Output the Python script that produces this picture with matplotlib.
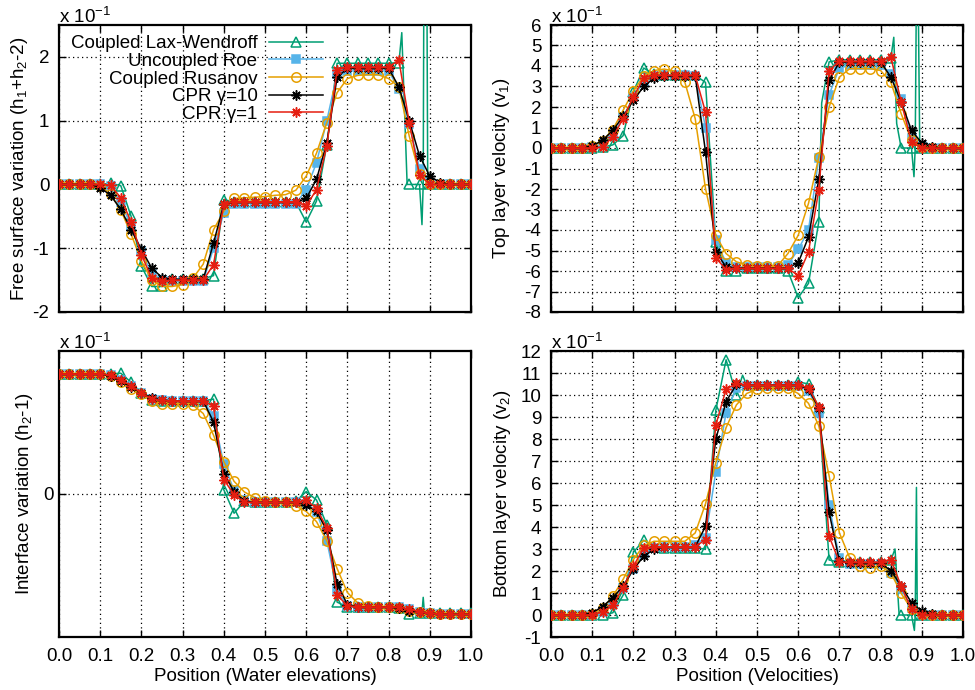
import numpy as np
import matplotlib
matplotlib.use('Agg')
import matplotlib.pyplot as plt
from matplotlib.ticker import MultipleLocator, FormatStrFormatter

plt.rcParams['font.family'] = ['Liberation Sans', 'DejaVu Sans']
plt.rcParams['mathtext.default'] = 'regular'
plt.rcParams['axes.unicode_minus'] = False

# ---------------- data ----------------
positions = np.linspace(0.0, 1.0, 41)
series_names = ['Coupled Lax-Wendroff', 'Uncoupled Roe', 'Coupled Rusanov', 'CPR γ=10', 'CPR γ=1']

# Free surface variation (x 10^-1)
eta_lw = [0, 0, 0, 0, 0, 0.02, -0.02, -0.5, -1.28, -1.6, -1.6, -1.49, -1.48, -1.48, -1.48, -1.43, -0.24, -0.27, -0.27, -0.27, -0.27,
          -0.27, -0.27, -0.28, -0.59, -0.26, 0.62, 1.9, 1.9, 1.9, 1.9, 1.9, 1.9, 1.91, 0, 0, 0, 0, 0, 0, 0]
eta_roe = [0, 0, 0, 0, 0, -0.03, -0.28, -0.65, -1.05, -1.4, -1.5, -1.52, -1.52, -1.52, -1.52, -1.0, -0.45, -0.3, -0.3, -0.3, -0.3,
           -0.3, -0.3, -0.3, -0.08, 0.34, 1.0, 1.73, 1.78, 1.78, 1.78, 1.78, 1.78, 1.49, 0.95, 0.25, 0.02, 0, 0, 0, 0]
eta_rus = [0, 0, 0, 0, -0.02, -0.15, -0.4, -0.78, -1.2, -1.5, -1.6, -1.6, -1.57, -1.47, -1.25, -0.71, -0.42, -0.22, -0.21, -0.2, -0.19,
           -0.17, -0.16, -0.09, 0.13, 0.49, 0.97, 1.44, 1.66, 1.71, 1.72, 1.72, 1.66, 1.53, 0.76, 0.16, 0.0, 0, 0, 0, 0]
eta_cpr10 = [0, 0, 0, 0, -0.05, -0.17, -0.39, -0.71, -1.02, -1.31, -1.46, -1.49, -1.49, -1.49, -1.49, -0.92, -0.31, -0.28, -0.28, -0.28, -0.28,
             -0.28, -0.28, -0.28, -0.22, 0.08, 0.65, 1.68, 1.82, 1.82, 1.82, 1.82, 1.82, 1.53, 1.0, 0.45, 0.13, 0.03, 0, 0, 0]
eta_cpr1 = [0, 0, 0, 0, 0, -0.01, -0.21, -0.59, -1.1, -1.47, -1.52, -1.5, -1.5, -1.5, -1.5, -1.26, -0.31, -0.27, -0.27, -0.27, -0.27,
            -0.27, -0.27, -0.27, -0.34, -0.08, 0.6, 1.8, 1.84, 1.84, 1.84, 1.84, 1.84, 1.95, 0.97, 0.15, 0, 0, 0, 0, 0]
eta_lw_extra_x = [0.832, 0.845, 0.881, 0.884, 0.887, 0.891, 0.895]
eta_lw_extra_y = [2.38, 0.0, -0.63, 0.0, 6.0, 6.0, 0.0]

# Top layer velocity (x 10^-1)
v1_lw = [0, 0, 0, 0, 0, 0.05, 0.15, 0.6, 2.75, 3.9, 3.6, 3.55, 3.55, 3.55, 3.55, 3.2, -4.6, -6.0, -6.0, -5.85, -5.85,
         -5.85, -5.85, -6.0, -7.3, -6.6, -3.6, 4.2, 4.3, 4.3, 4.3, 4.3, 4.3, 4.4, 0, 0, 0, 0, 0, 0, 0]
v1_roe = [0, 0, 0, 0, 0.05, 0.2, 0.6, 1.5, 2.5, 3.2, 3.5, 3.55, 3.55, 3.55, 3.5, 1.0, -4.5, -5.6, -5.8, -5.8, -5.8,
          -5.8, -5.8, -5.7, -4.95, -4.0, -0.5, 2.6, 3.9, 4.05, 4.05, 4.05, 4.05, 3.6, 2.4, 0.5, 0.1, 0, 0, 0, 0]
v1_rus = [0, 0, 0, 0, 0.1, 0.35, 0.9, 1.84, 2.78, 3.5, 3.78, 3.85, 3.75, 3.2, 1.43, -1.98, -4.26, -5.15, -5.55, -5.7, -5.75,
          -5.75, -5.75, -5.15, -4.26, -2.7, -0.44, 2.0, 3.46, 3.87, 3.87, 3.87, 3.78, 3.2, 1.67, 0.37, 0.05, 0, 0, 0, 0]
v1_cpr10 = [0, 0, 0, 0, 0.1, 0.37, 0.86, 1.54, 2.32, 3.0, 3.41, 3.49, 3.52, 3.52, 3.52, -0.19, -5.07, -5.8, -5.85, -5.85, -5.85,
            -5.85, -5.85, -5.85, -5.6, -4.34, -1.53, 3.3, 4.19, 4.2, 4.2, 4.2, 4.2, 3.46, 2.24, 0.86, 0.24, 0.05, 0, 0, 0]
v1_cpr1 = [0, 0, 0, 0, 0, 0.05, 0.54, 1.43, 2.49, 3.43, 3.55, 3.55, 3.55, 3.55, 3.55, 1.75, -5.36, -5.93, -5.87, -5.87, -5.87,
           -5.87, -5.87, -5.87, -6.22, -5.07, -2.03, 3.78, 4.24, 4.22, 4.22, 4.22, 4.22, 4.43, 2.24, 0.29, 0, 0, 0, 0, 0]
v1_lw_extra_x = [0.657, 0.832, 0.839, 0.881, 0.884, 0.887, 0.891, 0.895]
v1_lw_extra_y = [2.2, 5.4, 1.2, -1.4, 0.0, 8.0, 8.0, 0.0]

# Interface variation (x 10^-1)
h2_lw = [1, 1, 1, 1, 1, 1, 1.005, 0.93, 0.84, 0.78, 0.775, 0.775, 0.775, 0.775, 0.775, 0.79, 0.035, -0.16, -0.06, -0.07, -0.07,
         -0.07, -0.07, -0.06, 0.02, -0.05, -0.255, -0.9, -0.94, -0.94, -0.94, -0.94, -0.94, -0.95, -1.0, -0.99, -0.99, -0.99, -0.99, -0.99, -0.99]
h2_roe = [1, 1, 1, 1, 1, 0.99, 0.95, 0.9, 0.84, 0.79, 0.78, 0.775, 0.775, 0.775, 0.775, 0.65, 0.25, 0.03, -0.05, -0.07, -0.07,
          -0.07, -0.07, -0.07, -0.08, -0.15, -0.39, -0.8, -0.93, -0.94, -0.94, -0.94, -0.94, -0.94, -0.96, -0.98, -0.99, -1, -1, -1, -1]
h2_rus = [1, 1, 1, 1, 1, 0.98, 0.93, 0.87, 0.83, 0.77, 0.75, 0.75, 0.75, 0.74, 0.67, 0.49, 0.27, 0.105, 0.017, -0.03, -0.06,
          -0.07, -0.07, -0.1, -0.145, -0.23, -0.39, -0.62, -0.82, -0.906, -0.93, -0.94, -0.94, -0.95, -0.97, -0.985, -0.99, -1, -1, -1, -1]
h2_cpr10 = [1, 1, 1, 1, 1, 0.98, 0.94, 0.89, 0.84, 0.8, 0.78, 0.775, 0.775, 0.775, 0.775, 0.6, 0.17, 0.02, -0.06, -0.07, -0.07,
            -0.07, -0.07, -0.07, -0.09, -0.145, -0.3, -0.75, -0.92, -0.94, -0.94, -0.94, -0.94, -0.95, -0.97, -0.985, -0.99, -1, -1, -1, -1]
h2_cpr1 = [1, 1, 1, 1, 1, 0.99, 0.95, 0.9, 0.84, 0.79, 0.78, 0.775, 0.775, 0.775, 0.775, 0.73, 0.12, -0.006, -0.07, -0.07, -0.07,
           -0.07, -0.07, -0.07, -0.05, -0.12, -0.28, -0.84, -0.93, -0.94, -0.94, -0.94, -0.94, -0.94, -0.96, -0.98, -0.99, -1, -1, -1, -1]
h2_lw_extra_x = [0.881, 0.884, 0.887]
h2_lw_extra_y = [-0.99, -0.86, -0.99]

# Bottom layer velocity (x 10^-1)
v2_lw = [0, 0, 0, 0, 0, 0, 0.1, 0.9, 2.85, 3.4, 3.1, 3.05, 3.05, 3.05, 3.05, 3.0, 9.3, 11.6, 10.0, 10.45, 10.45,
         10.45, 10.45, 10.45, 10.6, 10.5, 9.4, 2.5, 2.4, 2.4, 2.4, 2.4, 2.4, 2.5, 0, 0, 0, 0, 0, 0, 0]
v2_roe = [0, 0, 0, 0, 0, 0.15, 0.55, 1.25, 2.1, 2.8, 3.05, 3.1, 3.1, 3.1, 3.2, 3.5, 6.5, 9.2, 10.3, 10.4, 10.4,
          10.4, 10.4, 10.4, 10.4, 10.2, 9.2, 5.0, 2.6, 2.3, 2.3, 2.3, 2.3, 1.9, 1.2, 0.3, 0.05, 0, 0, 0, 0]
v2_rus = [0, 0, 0, 0, 0.05, 0.3, 0.85, 1.62, 2.52, 3.16, 3.35, 3.35, 3.35, 3.35, 3.73, 5.05, 6.93, 8.52, 9.55, 10.07, 10.26,
          10.3, 10.3, 10.3, 10.07, 9.62, 8.6, 6.33, 3.73, 2.6, 2.22, 2.15, 2.22, 1.92, 0.98, 0.26, 0.03, 0, 0, 0, 0]
v2_cpr10 = [0, 0, 0, 0, 0.1, 0.38, 0.79, 1.31, 2.07, 2.67, 2.98, 3.1, 3.1, 3.1, 3.1, 4.03, 7.99, 9.7, 10.48, 10.45, 10.45,
            10.45, 10.45, 10.45, 10.45, 10.26, 9.4, 4.67, 2.45, 2.35, 2.35, 2.35, 2.35, 2.02, 1.31, 0.56, 0.18, 0.03, 0, 0, 0]
v2_cpr1 = [0, 0, 0, 0, 0, 0.15, 0.44, 1.24, 2.22, 3.05, 3.1, 3.1, 3.1, 3.1, 3.1, 3.43, 8.64, 10.26, 10.53, 10.45, 10.45,
           10.45, 10.45, 10.45, 10.45, 10.33, 9.47, 3.58, 2.4, 2.4, 2.4, 2.4, 2.4, 2.52, 1.31, 0.26, 0, 0, 0, 0, 0]
v2_lw_extra_x = [0.465, 0.835, 0.845, 0.882, 0.884, 0.887, 0.889]
v2_lw_extra_y = [10.9, 3.0, 0.0, -0.7, 0.0, 5.8, 0.0]

# ---------------- styles ----------------
colors = ['#009e73', '#56b4e9', '#e69f00', '#000000', '#e51e10']
markers = ['^', 's', 'o', (8, 2, 0), (8, 2, 0)]
mfcs = ['none', '#56b4e9', 'none', 'none', 'none']
msizes = [6.8, 6.2, 6.8, 7.2, 7.2]
FS = 13.5

fig = plt.figure(figsize=(9.75, 6.9), dpi=100)
W, H = 975.0, 690.0
ax_tl = fig.add_axes([59 / W, 1 - 312 / H, 412 / W, 287 / H])
ax_tr = fig.add_axes([551 / W, 1 - 312 / H, 412 / W, 287 / H])
ax_bl = fig.add_axes([59 / W, 1 - 637 / H, 412 / W, 286 / H])
ax_br = fig.add_axes([551 / W, 1 - 637 / H, 412 / W, 286 / H])


def draw(ax, data, ex_x, ex_y):
    for i, vals in enumerate(data):
        xs = list(positions)
        ys = list(vals)
        n_grid = len(xs)
        if i == 0:
            xs = xs + list(ex_x)
            ys = ys + list(ex_y)
        order = np.argsort(xs, kind='stable')
        xs = np.asarray(xs)[order]
        ys = np.asarray(ys)[order]
        mark_idx = [j for j, o in enumerate(order) if o < n_grid]
        ax.plot(xs, ys, color=colors[i], lw=1.1, marker=markers[i], markevery=mark_idx,
                mfc=mfcs[i], mec=colors[i], ms=msizes[i], mew=1.1, label=series_names[i],
                zorder=3 + i)


draw(ax_tl, [eta_lw, eta_roe, eta_rus, eta_cpr10, eta_cpr1], eta_lw_extra_x, eta_lw_extra_y)
draw(ax_tr, [v1_lw, v1_roe, v1_rus, v1_cpr10, v1_cpr1], v1_lw_extra_x, v1_lw_extra_y)
draw(ax_bl, [h2_lw, h2_roe, h2_rus, h2_cpr10, h2_cpr1], h2_lw_extra_x, h2_lw_extra_y)
draw(ax_br, [v2_lw, v2_roe, v2_rus, v2_cpr10, v2_cpr1], v2_lw_extra_x, v2_lw_extra_y)

ylims = {ax_tl: (-2, 2.5), ax_tr: (-8, 6), ax_bl: (-1.19, 1.19), ax_br: (-1, 12)}
ylabels = {ax_tl: 'Free surface variation (h$_1$+h$_2$-2)',
           ax_tr: 'Top layer velocity (v$_1$)',
           ax_bl: 'Interface variation (h$_2$-1)',
           ax_br: 'Bottom layer velocity (v$_2$)'}
ylabel_x = {ax_tl: -0.070, ax_tr: -0.095, ax_bl: -0.058, ax_br: -0.093}

for ax in [ax_tl, ax_tr, ax_bl, ax_br]:
    ax.set_xlim(0, 1)
    ax.set_ylim(*ylims[ax])
    ax.xaxis.set_major_locator(MultipleLocator(0.1))
    ax.xaxis.set_major_formatter(FormatStrFormatter('%.1f'))
    if ax is ax_bl:
        ax.set_yticks([0])
    else:
        ax.yaxis.set_major_locator(MultipleLocator(1))
    ax.yaxis.set_major_formatter(FormatStrFormatter('%g'))
    ax.tick_params(direction='in', top=True, right=True, length=5, width=1,
                   labelsize=FS, pad=7)
    ax.tick_params(axis='x', pad=8)
    ax.grid(True, color='black', linestyle=(0, (1, 2.6)), linewidth=0.9, zorder=1)
    ax.set_axisbelow(True)
    for s in ax.spines.values():
        s.set_linewidth(1.6)
    ax.set_ylabel(ylabels[ax], fontsize=FS)
    ax.yaxis.set_label_coords(ylabel_x[ax], 0.5)
    ax.text(0.0, 1.008, 'x 10$^{-1}$', transform=ax.transAxes, ha='left', va='baseline',
            fontsize=FS)

ax_bl.tick_params(axis='y', pad=4)
ax_tl.tick_params(labelbottom=False)
ax_tr.tick_params(labelbottom=False)
ax_bl.set_xlabel('Position (Water elevations)', fontsize=FS, labelpad=2)
ax_br.set_xlabel('Position (Velocities)', fontsize=FS, labelpad=2)

ax_tl.legend(loc='upper right', bbox_to_anchor=(0.641, 0.965), frameon=False, markerfirst=False,
             fontsize=FS, handlelength=2.9, handletextpad=0.6, labelspacing=0.03,
             borderpad=0, borderaxespad=0)

fig.savefig('out.png', dpi=100)
